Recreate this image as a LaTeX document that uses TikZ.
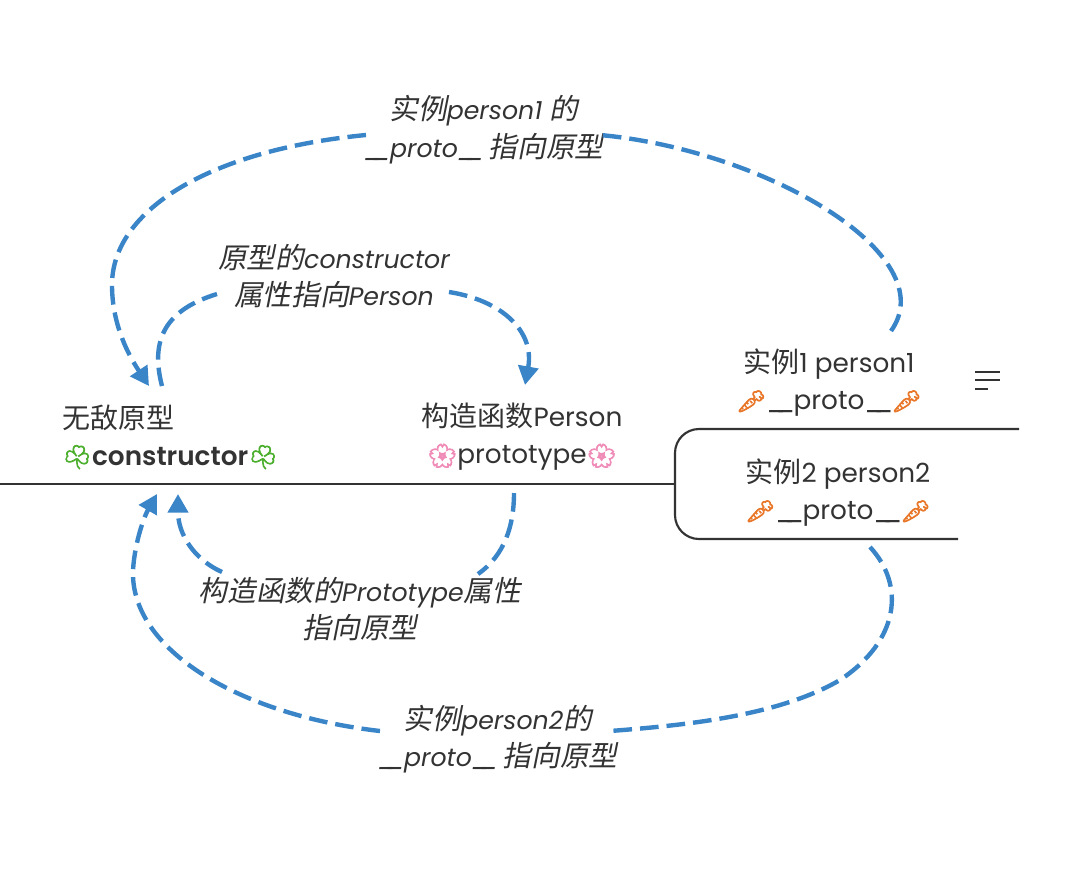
\documentclass[tikz,border=0pt]{standalone}
\usepackage{fontspec}
\setmainfont[Scale=0.88]{Poppins}
\newfontfamily\topicfont[Scale=0.94,BoldFont={Poppins SemiBold}]{Poppins}
\newfontfamily\zhfont{Noto Sans CJK SC}
\newfontfamily\zhit[FakeSlant=0.2]{Noto Sans CJK SC}
\newfontfamily\emofont[FakeBold=3,Scale=0.84]{Noto Emoji}
\definecolor{ink}{HTML}{333333}
\definecolor{arrowblue}{HTML}{3A85C8}
\definecolor{clover}{HTML}{4CAF2E}
\definecolor{blossom}{HTML}{F08CB8}
\definecolor{carrot}{HTML}{E8772A}
\newcommand{\zh}[1]{{\zhfont #1}}
\newcommand{\zi}[1]{{\zhit #1}}
\newcommand{\clv}{{\emofont\textcolor{clover}{\symbol{"2618}}}}
\newcommand{\blm}{{\emofont\textcolor{blossom}{\symbol{"1F338}}}}
\newcommand{\crt}{{\emofont\textcolor{carrot}{\symbol{"1F955}}}}
\newcommand{\dunder}{\_\kern-7.5pt\_\kern-1pt}
\usetikzlibrary{arrows.meta}
\tikzset{
  x=0.75pt,y=-0.75pt,
  topic/.style={align=center,text=ink,font=\fontsize{21pt}{27.6pt}\selectfont\topicfont,inner sep=0pt},
  note/.style={align=center,text=ink,font=\fontsize{21.5pt}{28.3pt}\selectfont\itshape,inner sep=0pt},
  link/.style={draw=arrowblue,line width=3.3pt,dash pattern=on 14pt off 6pt},
  linkhead/.style={link,-{Triangle[length=14pt,width=15pt,color=arrowblue]}},
  branch/.style={draw=ink,line width=1.6pt}
}
\begin{document}
\begin{tikzpicture}
\useasboundingbox (0,0) rectangle (1070,882);
% topics
\node[topic,anchor=west,align=left] (proto) at (62,437) {\zh{无敌原型}\\\clv\textbf{constructor}\clv};
\node[topic] (ctor) at (522,437) {\zh{构造函数}Person\\\blm prototype\blm};
\node[topic] (inst1) at (829,382.5) {\zh{实例}1 person1\\\crt\dunder proto\dunder\crt};
\node[topic] (inst2) at (838,492.5) {\zh{实例}2 person2\\\crt\dunder proto\dunder\crt};
% notes
\node[note] (n1) at (484,130) {\zi{实例}person1 \zi{的}\\\dunder proto\dunder\kern4pt\zi{指向原型}};
\node[note] (n2) at (334,276) {\zi{原型的}constructor\\\zi{属性指向}Person};
\node[note] (n3) at (360,609) {\zi{构造函数的}Prototype\zi{属性}\\\zi{指向原型}};
\node[note] (n4) at (498,739) {\zi{实例}person2\zi{的}\\\dunder proto\dunder\kern4pt\zi{指向原型}};
% connector ends
\coordinate (a1) at (891,331);
\coordinate (a2) at (600,135);
\coordinate (a3) at (366,135);
\coordinate (a4) at (149,386);
\coordinate (b1) at (162,386);
\coordinate (b2) at (217,294);
\coordinate (b3) at (449,292);
\coordinate (b4) at (525,385);
\coordinate (c1) at (514,493);
\coordinate (c2) at (478,574);
\coordinate (c3) at (222,572);
\coordinate (c4) at (178,494);
\coordinate (d1) at (870,547);
\coordinate (d2) at (610,731);
\coordinate (d3) at (380,731);
\coordinate (d4) at (157,494);
% connectors
\draw[link] (a1) .. controls (945,255) and (765,150) .. (a2);
\draw[linkhead] (a3) .. controls (210,150) and (112,210) .. (112,285) .. controls (112,320) and (125,350) .. (a4);
\draw[link] (b1) .. controls (150,340) and (165,310) .. (b2);
\draw[linkhead] (b3) .. controls (500,300) and (535,330) .. (b4);
\draw[link] (c1) .. controls (514,525) and (505,555) .. (c2);
\draw[linkhead] (c3) .. controls (195,560) and (178,535) .. (c4);
\draw[link] (d1) .. controls (905,585) and (900,640) .. (840,680) .. controls (780,715) and (690,725) .. (d2);
\draw[linkhead] (d3) .. controls (240,715) and (130,650) .. (133,570) .. controls (135,540) and (145,515) .. (d4);
% branches
\coordinate (t0) at (0,484);
\coordinate (t1) at (675,484);
\coordinate (t2) at (1019,429);
\coordinate (t3) at (958,539);
\draw[branch] (t0) -- (t1);
\draw[branch,rounded corners=18pt] (t2) -- (675,429) -- (675,539) -- (t3);
% menu icon
\draw[branch] (975,372) -- (1000,372) (975,380) -- (1000,380) (975,389) -- (988,389);
\end{tikzpicture}
\end{document}
